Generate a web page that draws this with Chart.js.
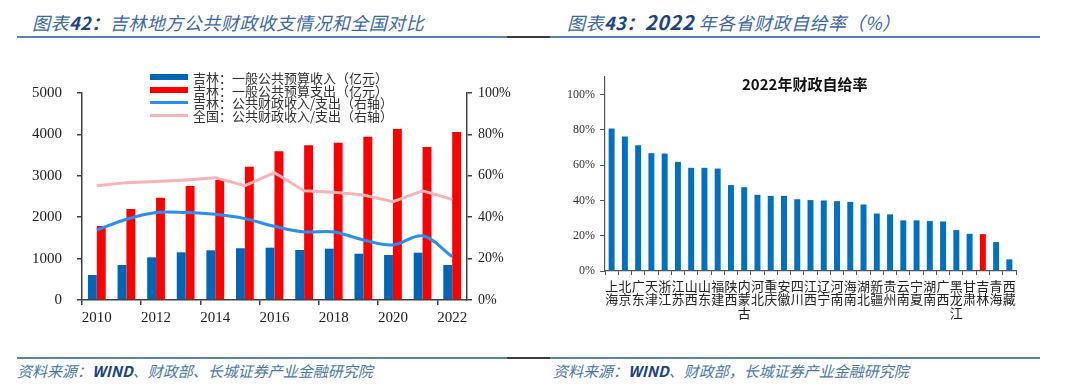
<!DOCTYPE html>
<html>
<head>
<meta charset="utf-8">
<script src="https://cdn.jsdelivr.net/npm/chart.js@4"></script>
<style>
body { margin: 0; width: 1080px; height: 392px; background: #fff; position: relative; overflow: hidden; font-family: 'Noto Sans CJK SC', sans-serif; }
.head { position: absolute; top: 11px; font-size: 18px; line-height: 22px; font-style: italic; color: #3b68a8; letter-spacing: 0.5px; white-space: nowrap; }
.head b { color: #1d4380; }
.rule { position: absolute; height: 2px; background: #5a82b0; }
.rule.dark { background: #3d3d3d; }
.src { position: absolute; top: 361px; font-size: 15px; line-height: 20px; font-style: italic; color: #4a76b0; white-space: nowrap; }
.src b { color: #1d4380; }
canvas { position: absolute; }
#legend1 { position: absolute; left: 150px; top: 71px; font-size: 13px; color: #333; }
.lg-row { display: flex; align-items: center; height: 12.7px; white-space: nowrap; }
.lg-sw { display: inline-block; width: 38px; margin-right: 5px; }
#title2 { position: absolute; left: 742px; top: 73px; font-size: 15px; font-weight: bold; color: #111; white-space: nowrap; }
</style>
</head>
<body>
<div class="head" style="left:32px">图表<b>42：</b>吉林地方公共财政收支情况和全国对比</div>
<div class="head" style="left:567px">图表<b>43：</b><b style="font-size:20px">2022</b> 年各省财政自给率（%）</div>
<div class="rule" style="left:17px; top:36px; width:490px"></div>
<div class="rule dark" style="left:507px; top:36px; width:43px"></div>
<div class="rule" style="left:550px; top:36px; width:490px"></div>

<canvas id="c1" width="540" height="290" style="left:0; top:50px"></canvas>
<div id="legend1"></div>

<canvas id="c2" width="540" height="300" style="left:540px; top:50px"></canvas>
<div id="title2">2022年财政自给率</div>

<div class="rule" style="left:17px; top:357px; width:490px"></div>
<div class="rule dark" style="left:507px; top:357px; width:43px"></div>
<div class="rule" style="left:550px; top:357px; width:490px"></div>
<div class="src" style="left:17px">资料来源：<b>WIND</b>、财政部、长城证券产业金融研究院</div>
<div class="src" style="left:553px">资料来源：<b>WIND</b>、财政部，长城证券产业金融研究院</div>

<script>
// left chart data
const years = ['2010', '2011', '2012', '2013', '2014', '2015', '2016', '2017', '2018', '2019', '2020', '2021', '2022'];
const jlRevenue = [604, 845, 1031, 1152, 1200, 1250, 1264, 1208, 1240, 1118, 1087, 1143, 845];
const jlExpense = [1787, 2198, 2471, 2754, 2900, 3220, 3590, 3736, 3800, 3945, 4130, 3696, 4058];
const jlRatio = [33.8, 39.0, 42.3, 42.3, 41.4, 39.3, 35.6, 32.9, 32.9, 29.0, 26.6, 31.0, 21.0];
const natRatio = [55.2, 56.7, 57.2, 58.0, 59.1, 55.2, 61.5, 52.8, 52.0, 50.7, 47.5, 52.7, 48.6];

// right chart data
const provinces = ['上海', '北京', '广东', '天津', '浙江', '江苏', '山西', '山东', '福建', '陕西', '内蒙古',
    '河北', '重庆', '安徽', '四川', '江西', '辽宁', '河南', '海南', '湖北', '新疆', '贵州', '云南', '宁夏',
    '湖南', '广西', '黑龙江', '甘肃', '吉林', '青海', '西藏'];
const selfRate = [80.8, 76.2, 71.3, 66.8, 66.6, 61.9, 58.5, 58.5, 58.1, 48.7, 47.5, 43.2, 42.6, 42.6, 40.7,
    40.2, 40.0, 39.6, 39.2, 37.7, 32.6, 32.1, 28.7, 28.7, 28.3, 28.1, 23.2, 21.1, 20.9, 16.4, 6.6];
const rateTicks = [0, 20, 40, 60, 80, 100];

const serif = "'Liberation Serif', 'Noto Sans CJK SC', serif";
const axisColor = '#404040';

// Chart 1: revenue / expenditure bars + ratio lines
const chart1 = new Chart(document.getElementById('c1'), {
    type: 'bar',
    data: {
        labels: years,
        datasets: [{
            label: '吉林：一般公共预算收入（亿元）',
            data: jlRevenue,
            backgroundColor: '#0066b8',
            yAxisID: 'y',
            order: 1,
            categoryPercentage: 0.6,
            barPercentage: 1
        }, {
            label: '吉林：一般公共预算支出（亿元）',
            data: jlExpense,
            backgroundColor: '#ff0000',
            yAxisID: 'y',
            order: 1,
            categoryPercentage: 0.6,
            barPercentage: 1
        }, {
            type: 'line',
            label: '吉林：公共财政收入/支出（右轴）',
            data: jlRatio,
            borderColor: '#2a8ff0',
            borderWidth: 3,
            pointRadius: 0,
            tension: 0.35,
            yAxisID: 'y1',
            order: 0
        }, {
            type: 'line',
            label: '全国：公共财政收入/支出（右轴）',
            data: natRatio,
            borderColor: '#f7b3b8',
            borderWidth: 3,
            pointRadius: 0,
            tension: 0,
            yAxisID: 'y1',
            order: 0
        }]
    },
    options: {
        responsive: false,
        animation: false,
        layout: { padding: { top: 43, left: 0, right: 0, bottom: 0 } },
        plugins: { legend: { display: false }, tooltip: { enabled: false } },
        scales: {
            x: {
                afterFit: s => { s.height = 40; },
                border: { color: axisColor, width: 1.5 },
                grid: {
                    offset: true,
                    drawOnChartArea: false,
                    tickLength: 5,
                    lineWidth: 1.5,
                    color: ctx => ctx.index % 2 === 0 ? axisColor : 'rgba(0,0,0,0)'
                },
                ticks: {
                    autoSkip: false,
                    maxRotation: 0,
                    padding: 4,
                    color: '#222',
                    font: { family: serif, size: 15 },
                    callback: function(v, i) { return i % 2 === 0 ? this.getLabelForValue(v) : ''; }
                }
            },
            y: {
                position: 'left',
                min: 0,
                max: 5000,
                afterFit: s => { s.width = 82; },
                border: { color: axisColor, width: 1.5 },
                grid: { drawOnChartArea: false, tickLength: 5, color: axisColor, lineWidth: 1.5 },
                ticks: { stepSize: 1000, padding: 15, color: '#222', font: { family: serif, size: 15 },
                    callback: v => String(v) }
            },
            y1: {
                position: 'right',
                min: 0,
                max: 100,
                afterFit: s => { s.width = 73; },
                border: { color: axisColor, width: 1.5 },
                grid: { drawOnChartArea: false, tickLength: 5, color: axisColor, lineWidth: 1.5 },
                ticks: { stepSize: 20, padding: 6, color: '#222', font: { family: serif, size: 14 },
                    callback: v => v + '%' }
            }
        }
    }
});

// html legend for chart 1
function buildLegend(chart, el) {
    chart.data.datasets.forEach(ds => {
        const row = document.createElement('div');
        row.className = 'lg-row';
        const sw = document.createElement('span');
        sw.className = 'lg-sw';
        const isLine = ds.type === 'line';
        sw.style.height = isLine ? '3px' : '6px';
        sw.style.background = isLine ? ds.borderColor : ds.backgroundColor;
        const txt = document.createElement('span');
        txt.textContent = ds.label;
        row.appendChild(sw);
        row.appendChild(txt);
        el.appendChild(row);
    });
}
buildLegend(chart1, document.getElementById('legend1'));

// Chart 2: self-sufficiency rate by province
const chart2 = new Chart(document.getElementById('c2'), {
    type: 'bar',
    data: {
        labels: provinces.map(p => p.split('')),
        datasets: [{
            label: '2022年财政自给率',
            data: selfRate,
            backgroundColor: provinces.map(p => p === '吉林' ? '#ff0000' : '#0070c0'),
            categoryPercentage: 1,
            barPercentage: 0.45
        }]
    },
    options: {
        responsive: false,
        animation: false,
        layout: { padding: { top: 27, left: 0, right: 64, bottom: 0 } },
        plugins: { legend: { display: false }, tooltip: { enabled: false } },
        scales: {
            x: {
                afterFit: s => { s.height = 79; },
                border: { color: '#555', width: 1.2 },
                grid: { offset: true, drawOnChartArea: false, tickLength: 4, color: '#555' },
                ticks: {
                    autoSkip: false,
                    maxRotation: 0,
                    minRotation: 0,
                    padding: 4,
                    color: '#222',
                    font: { family: "'Noto Sans CJK SC', sans-serif", size: 13, lineHeight: 1.05 }
                }
            },
            y: {
                min: 0,
                max: 110,
                afterFit: s => { s.width = 65; },
                afterBuildTicks: s => { s.ticks = rateTicks.map(v => ({ value: v })); },
                border: { color: '#555', width: 1.2 },
                grid: { drawOnChartArea: false, tickLength: 5, color: '#555' },
                ticks: { padding: 5, color: '#333', font: { family: serif, size: 12 }, callback: v => v + '%' }
            }
        }
    }
});
</script>
</body>
</html>
